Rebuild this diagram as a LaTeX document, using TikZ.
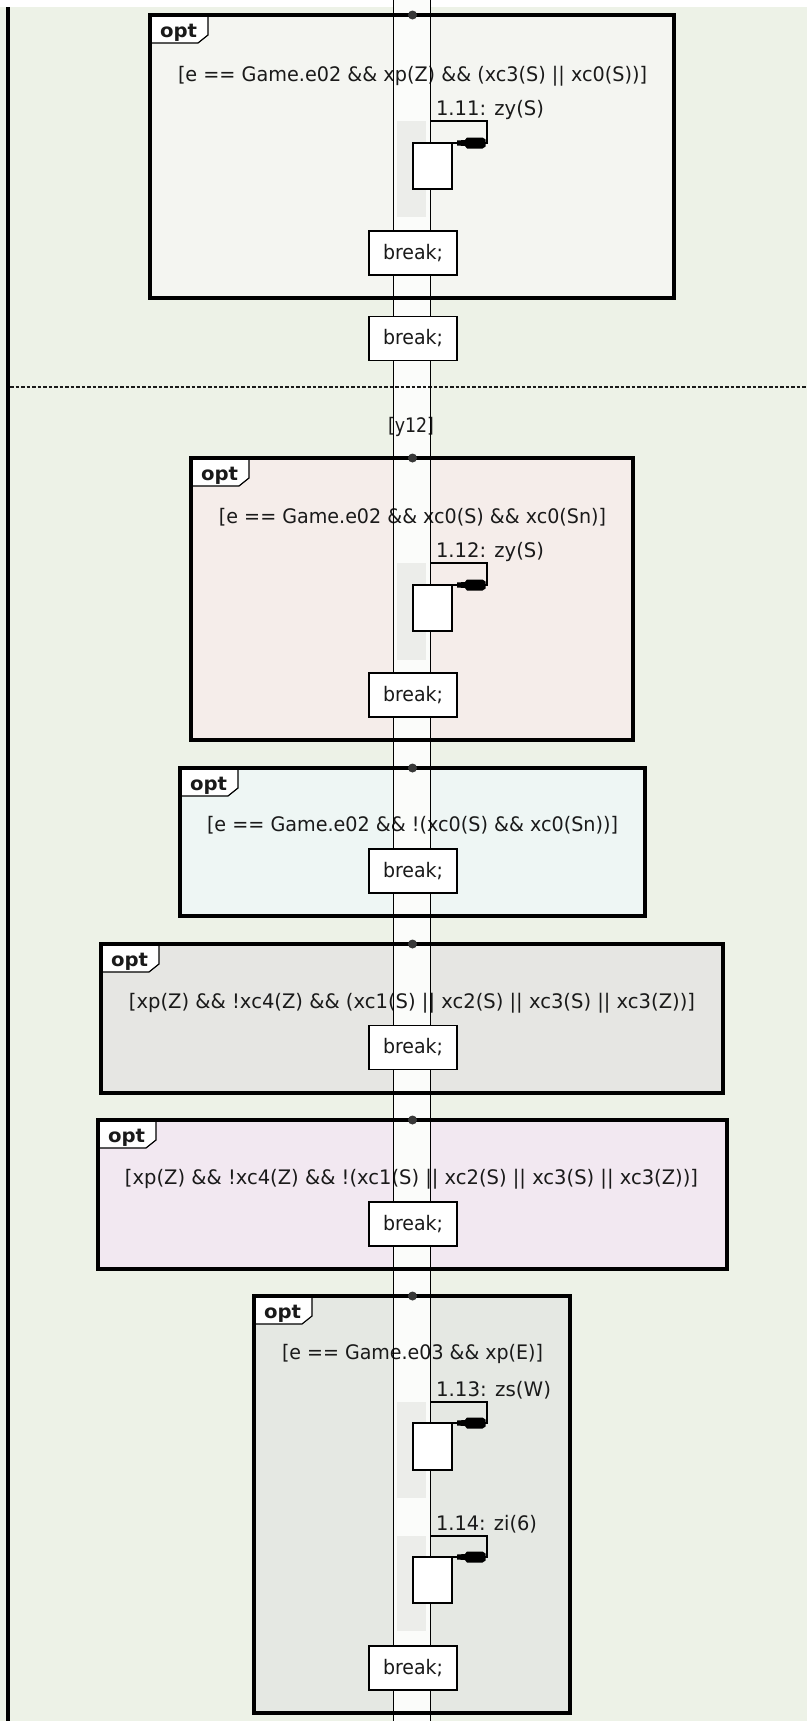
\documentclass[tikz,border=0pt]{standalone}
\usepackage{fontspec}
\setmainfont{DejaVu Sans}
\usepackage{graphicx}
\newcommand{\fitw}[2]{\resizebox{#1pt}{\height}{#2}}
\definecolor{bgc}{HTML}{EDF2E7}
\definecolor{fa}{HTML}{F4F5F1}
\definecolor{fb}{HTML}{F5EDEA}
\definecolor{fc}{HTML}{EEF6F4}
\definecolor{fd}{HTML}{E6E6E3}
\definecolor{fe}{HTML}{F2E8F1}
\definecolor{ff}{HTML}{E5E8E3}
\definecolor{bandc}{HTML}{FBFCFA}
\definecolor{actc}{HTML}{ECEDEA}
\definecolor{dotc}{HTML}{383838}
\definecolor{txtc}{HTML}{1A1A1A}
\begin{document}
\begin{tikzpicture}[x=1pt,y=-1pt,font=\fontsize{20}{23}\selectfont,
  every node/.style={inner sep=0pt,outer sep=0pt,text=txtc},
  frame/.style={draw=black,line width=3.2pt},
  tabshape/.style={draw=black,fill=white,line width=1.2pt},
  thinline/.style={line width=1.3pt},
  lifeline/.style={line width=1.5pt},
  actbox/.style={draw=black,fill=white,line width=1.3pt,minimum width=39pt,minimum height=46pt,anchor=north west},
  brk/.style={draw=black,fill=white,line width=1.3pt,minimum width=88pt,minimum height=44pt},
  dotnode/.style={circle,fill=dotc,minimum size=9pt},
  optlabel/.style={font=\fontsize{19}{22}\selectfont\bfseries,anchor=base},
  guard/.style={anchor=base},
  msglabel/.style={anchor=base west},
  blobtip/.pic={\fill (-30,-2.5) -- (-22,-3) -- (-20,-5.5) -- (-4.5,-5.5) -- (-1.5,-3.5) -- (-1.5,3.5) -- (-4.5,5.5) -- (-20,5.5) -- (-22,3) -- (-30,2.5) -- cycle;}
]
\useasboundingbox (0,0) rectangle (807,1721);
% background
\fill[bgc] (0,0) rectangle (807,1721);
\fill[white] (0,0) rectangle (807,7);
% frame fills
\fill[fa] (150,15) rectangle (674,298);
\fill[fb] (191,458) rectangle (633,740);
\fill[fc] (180,768) rectangle (645,916);
\fill[fd] (101,944) rectangle (723,1093);
\fill[fe] (98,1120) rectangle (727,1269);
\fill[ff] (254,1296) rectangle (570,1713);
% lifeline band
\fill[bandc] (393.5,0) rectangle (430.5,1721);
% activation shading
\fill[actc] (397,121) rectangle (426,217);
\fill[actc] (397,563) rectangle (426,660);
\fill[actc] (397,1402) rectangle (426,1498);
\fill[actc] (397,1536) rectangle (426,1631);
% left border and separator
\draw[line width=3.5pt] (8,7) -- (8,1721);
\draw[line width=1.7pt,dash pattern=on 3.5pt off 2pt,color=txtc] (10,387) -- (807,387);
% tabs
\draw[tabshape] (150,15) -- (208,15) -- (208,35) -- (198,43) -- (150,43) -- cycle;
\draw[tabshape] (191,458) -- (249,458) -- (249,478) -- (239,486) -- (191,486) -- cycle;
\draw[tabshape] (180,768) -- (238,768) -- (238,788) -- (228,796) -- (180,796) -- cycle;
\draw[tabshape] (101,944) -- (159,944) -- (159,964) -- (149,972) -- (101,972) -- cycle;
\draw[tabshape] (98,1120) -- (156,1120) -- (156,1140) -- (146,1148) -- (98,1148) -- cycle;
\draw[tabshape] (254,1296) -- (312,1296) -- (312,1316) -- (302,1324) -- (254,1324) -- cycle;
% frames
\draw[frame] (150,15) rectangle (674,298);
\draw[frame] (191,458) rectangle (633,740);
\draw[frame] (180,768) rectangle (645,916);
\draw[frame] (101,944) rectangle (723,1093);
\draw[frame] (98,1120) rectangle (727,1269);
\draw[frame] (254,1296) rectangle (570,1713);
% opt labels
\node[optlabel] (o1) at (178.5,37.5) {\fitw{37}{opt}};
\node[optlabel] (o2) at (219.5,480.5) {\fitw{37}{opt}};
\node[optlabel] (o3) at (208.5,790.5) {\fitw{37}{opt}};
\node[optlabel] (o4) at (129.5,966.5) {\fitw{37}{opt}};
\node[optlabel] (o5) at (126.5,1142.5) {\fitw{37}{opt}};
\node[optlabel] (o6) at (282.5,1318.5) {\fitw{37}{opt}};
% guards
\node[guard] (g1) at (412.5,81.5) {\fitw{469}{[e == Game.e02 \&\& xp(Z) \&\& (xc3(S) || xc0(S))]}};
\node[guard] (y12) at (411,432.5) {\fitw{46}{[y12]}};
\node[guard] (g2) at (412.5,523.5) {\fitw{387}{[e == Game.e02 \&\& xc0(S) \&\& xc0(Sn)]}};
\node[guard] (g3) at (412.5,831.5) {\fitw{411}{[e == Game.e02 \&\& !(xc0(S) \&\& xc0(Sn))]}};
\node[guard] (g4) at (412,1008.5) {\fitw{566}{[xp(Z) \&\& !xc4(Z) \&\& (xc1(S) || xc2(S) || xc3(S) || xc3(Z))]}};
\node[guard] (g5) at (411.5,1184.5) {\fitw{573}{[xp(Z) \&\& !xc4(Z) \&\& !(xc1(S) || xc2(S) || xc3(S) || xc3(Z))]}};
\node[guard] (g6) at (412.5,1359.5) {\fitw{261}{[e == Game.e03 \&\& xp(E)]}};
% lifeline
\draw[lifeline] (393.5,0) -- (393.5,1721);
\draw[lifeline] (430.5,0) -- (430.5,1721);
% dots
\node[dotnode] (d1) at (412.5,15) {};
\node[dotnode] (d2) at (412.5,458) {};
\node[dotnode] (d3) at (412.5,768) {};
\node[dotnode] (d4) at (412.5,944) {};
\node[dotnode] (d5) at (412.5,1120) {};
\node[dotnode] (d6) at (412.5,1296) {};
% activation boxes
\node[actbox] (a1) at (413,143) {};
\node[actbox] (a2) at (413,585) {};
\node[actbox,minimum height=47pt] (a3) at (413,1423) {};
\node[actbox] (a4) at (413,1557) {};
% self messages
\coordinate (s1) at (430.5,121); \coordinate (c1) at (487,121);
\coordinate (s2) at (430.5,563); \coordinate (c2) at (487,563);
\coordinate (s3) at (430.5,1402); \coordinate (c3) at (487,1402);
\coordinate (s4) at (430.5,1536); \coordinate (c4) at (487,1536);
\draw[thinline] (s1) -- (c1) |- (a1.north east);
\draw[thinline] (s2) -- (c2) |- (a2.north east);
\draw[thinline] (s3) -- (c3) |- (a3.north east);
\draw[thinline] (s4) -- (c4) |- (a4.north east);
\pic at (c1 |- a1.north east) {blobtip};
\pic at (c2 |- a2.north east) {blobtip};
\pic at (c3 |- a3.north east) {blobtip};
\pic at (c4 |- a4.north east) {blobtip};
\node[msglabel] (l1) at (436,115.5) {\fitw{108}{1.11: zy(S)}};
\node[msglabel] (l2) at (436,557.5) {\fitw{108}{1.12: zy(S)}};
\node[msglabel] (l3) at (436,1396) {\fitw{115}{1.13: zs(W)}};
\node[msglabel] (l4) at (436,1530) {\fitw{101}{1.14: zi(6)}};
% break boxes
\node[brk] (b1) at (413,253) {\fitw{60}{break;}};
\node[brk] (b2) at (413,338.5) {\fitw{60}{break;}};
\node[brk] (b3) at (413,695) {\fitw{60}{break;}};
\node[brk] (b4) at (413,871) {\fitw{60}{break;}};
\node[brk] (b5) at (413,1047.5) {\fitw{60}{break;}};
\node[brk] (b6) at (413,1224) {\fitw{60}{break;}};
\node[brk] (b7) at (413,1668) {\fitw{60}{break;}};
\end{tikzpicture}
\end{document}
